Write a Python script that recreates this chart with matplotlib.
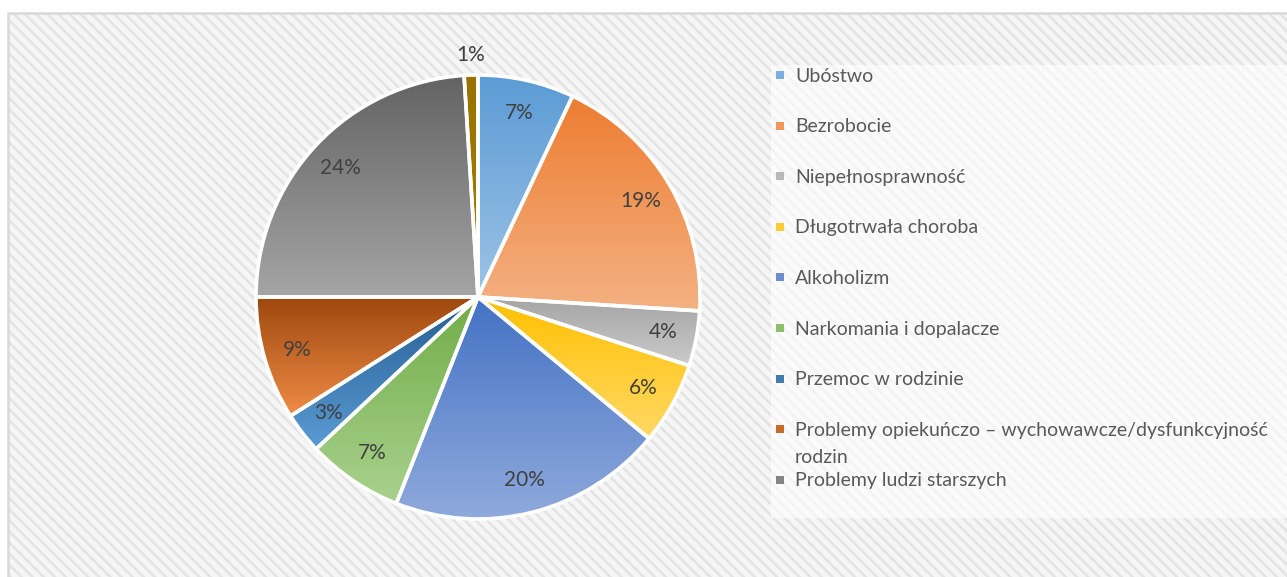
import numpy as np
import matplotlib
matplotlib.use('Agg')
import matplotlib.pyplot as plt
from matplotlib.patches import Rectangle
from matplotlib.colors import to_rgba

plt.rcParams['font.family'] = ['Lato', 'DejaVu Sans']
plt.rcParams['hatch.linewidth'] = 2.0

# data
labels = ['Ubóstwo', 'Bezrobocie', 'Niepełnosprawność', 'Długotrwała choroba',
          'Alkoholizm', 'Narkomania i dopalacze', 'Przemoc w rodzinie',
          'Problemy opiekuńczo – wychowawcze/dysfunkcyjność\nrodzin',
          'Problemy ludzi starszych', '']
values = [7, 19, 4, 6, 20, 7, 3, 9, 24, 1]
top_colors = ['#5B9BD5', '#ED7D31', '#A5A5A5', '#FFC000', '#4472C4',
              '#70AD47', '#255E91', '#9E480E', '#636363', '#997300']
bottom_colors = ['#9DC3E6', '#F4B183', '#CBCBCB', '#FFD966', '#8FAADC',
                 '#A9D18E', '#5B9BD5', '#F08C46', '#A5A5A5', '#A87E00']

W, H = 1287, 577
fig = plt.figure(figsize=(W / 100, H / 100), dpi=100)
fig.patch.set_facecolor('white')

def fx(px):
    return px / W

def fy(py):
    return 1 - py / H

# hatched chart area + border (behind the pie axes)
bg = Rectangle((fx(8), -0.2), 1.2, fy(13) + 0.2, transform=fig.transFigure,
               facecolor='#f6f6f6', edgecolor='#e4e4e4', hatch='\\\\\\', linewidth=0, zorder=-3)
fig.add_artist(bg)
border = Rectangle((fx(8), -0.2), 1.2, fy(13) + 0.2, transform=fig.transFigure,
                   facecolor='none', edgecolor='#d9d9d9', linewidth=1.8, zorder=-2)
fig.add_artist(border)

# pie
cx, cy, r = 478, 297, 222
ax = fig.add_axes([fx(cx - r), fy(cy + r), 2 * r / W, 2 * r / H])
ax.patch.set_alpha(0)
wedges, _ = ax.pie(values, startangle=90, counterclock=False, radius=1,
                   wedgeprops=dict(edgecolor='white', linewidth=2.6))

for i, w in enumerate(wedges):
    ext = w.get_path().get_extents()
    c0 = np.array(to_rgba(top_colors[i]))
    c1 = np.array(to_rgba(bottom_colors[i]))
    t = np.linspace(0, 1, 256)[:, None]
    grad = (c0[None, :] * (1 - t) + c1[None, :] * t)[:, None, :]
    im = ax.imshow(grad, extent=(ext.x0, ext.x1, ext.y0, ext.y1), origin='upper',
                   aspect='auto', zorder=1, interpolation='bilinear')
    im.set_clip_path(w)
    w.set_facecolor('none')
    w.set_zorder(2)

    mid = np.deg2rad((w.theta1 + w.theta2) / 2)
    dist = 0.85 if values[i] > 2 else 1.09
    ax.text(dist * np.cos(mid), dist * np.sin(mid), '%d%%' % values[i],
            ha='center', va='center', fontsize=15, color='#404040', zorder=3)

ax.set_xlim(-1, 1)
ax.set_ylim(-1, 1)
ax.set_aspect('equal')
ax.axis('off')

# legend
leg_box = Rectangle((fx(771), fy(518)), 1.0, (518 - 65) / H, transform=fig.transFigure,
                    facecolor='white', edgecolor='none', alpha=0.6, zorder=1)
fig.add_artist(leg_box)
step = 50.6
for i, lab in enumerate(labels):
    if lab == '':
        continue
    y = 75 + i * step
    col = np.array(to_rgba(top_colors[i])) * 0.5 + np.array(to_rgba(bottom_colors[i])) * 0.5
    fig.add_artist(Rectangle((fx(776), fy(y + 4)), 8 / W, 8 / H, transform=fig.transFigure,
                             facecolor=col, edgecolor='none', zorder=2))
    for j, line in enumerate(lab.split('\n')):
        fig.text(fx(795), fy(y + 1 + j * 27), line, ha='left', va='center',
                 fontsize=14, color='#595959', zorder=3)

fig.savefig('out.png', dpi=100)
